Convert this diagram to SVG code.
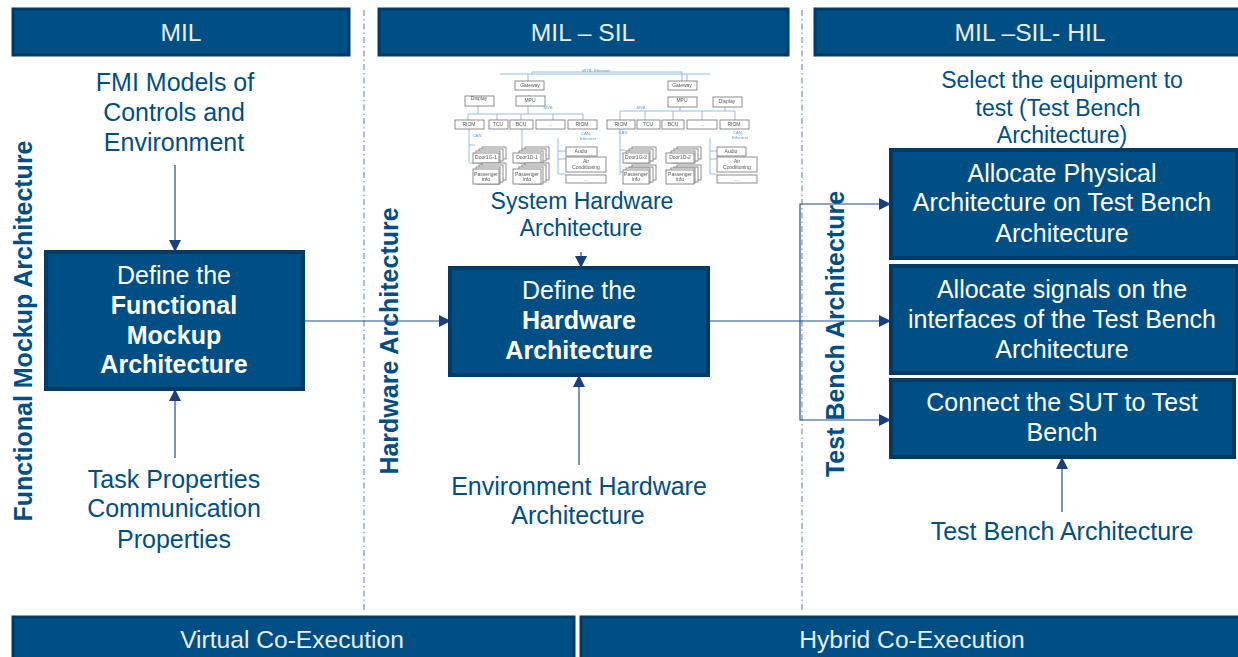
<svg xmlns="http://www.w3.org/2000/svg" width="1238" height="657" viewBox="0 0 1238 657">
<defs>
<style>
text{font-family:"Liberation Sans",Arial,sans-serif}
.bar{fill:#004f84;stroke:#003a66;stroke-width:3}
.box{fill:#004f84;stroke:#003a66;stroke-width:4}
.h{font-size:24.6px;fill:#e8eef4;text-anchor:middle}
.w{font-size:25px;fill:#fff;text-anchor:middle}
.b{font-weight:bold}
.t{font-size:25px;fill:#004f84;text-anchor:middle}
.t2{font-size:23px;fill:#004f84;text-anchor:middle}
.v{font-size:25px;font-weight:bold;fill:#004f84;text-anchor:middle}
.c{fill:none;stroke:#1f4f86;stroke-width:1.2}
.d{fill:none;stroke:#5f7f9f;stroke-width:1;stroke-dasharray:6 3 1.5 3}
.m{fill:#fff;stroke:#808080;stroke-width:.9}
.l{fill:none;stroke:#8fb4dc;stroke-width:.9}
.s{font-size:5px;fill:#555;text-anchor:middle}
.n{font-size:4.2px;fill:#5b9bd5;text-anchor:middle}
</style>
<filter id="soft" x="-5%" y="-5%" width="110%" height="110%"><feGaussianBlur stdDeviation="0.4"/></filter>
<marker id="a" markerWidth="12" markerHeight="12" refX="11" refY="6" orient="auto" markerUnits="userSpaceOnUse"><path d="M0 0L12 6L0 12Z" fill="#1a3f7f"/></marker>
</defs>

<g id="dividers">
<path class="d" d="M364 10V612"/>
<path class="d" d="M802 10V612"/>
</g>

<g id="connectors">
<path class="c" d="M175 165V251" marker-end="url(#a)"/>
<path class="c" d="M175 458V390" marker-end="url(#a)"/>
<path class="c" d="M304 321H450" marker-end="url(#a)"/>
<path class="c" d="M581 252V267" marker-end="url(#a)"/>
<path class="c" d="M579 465V376" marker-end="url(#a)"/>
<path class="c" d="M710 321H890" marker-end="url(#a)"/>
<path class="c" d="M800 321V204H890" marker-end="url(#a)"/>
<path class="c" d="M800 321V420H890" marker-end="url(#a)"/>
<path class="c" d="M1062 512V458" marker-end="url(#a)"/>
<path d="M1055 161L1061 154L1067 161Z" fill="#1a3f7f"/>
</g>

<g id="header-mil"><rect class="bar" x="13" y="9" width="336" height="46"/><text class="h" x="181" y="41">MIL</text></g>
<g id="header-mil-sil"><rect class="bar" x="379" y="9" width="409" height="46"/><text class="h" x="583" y="41">MIL – SIL</text></g>
<g id="header-mil-sil-hil"><rect class="bar" x="815" y="9" width="425" height="46"/><text class="h" x="1030" y="41">MIL –SIL- HIL</text></g>

<g id="label-fmi"><text class="t" x="175" y="91">FMI Models of</text><text class="t" x="174" y="121">Controls and</text><text class="t" x="174" y="151">Environment</text></g>
<g id="label-task"><text class="t" x="174" y="488">Task Properties</text><text class="t" x="174" y="517">Communication</text><text class="t" x="174" y="548">Properties</text></g>

<g id="node-functional"><rect class="box" x="46" y="252" width="257" height="137"/>
<text class="w" x="174" y="284">Define the</text><text class="w b" x="174" y="314">Functional</text><text class="w b" x="174" y="344">Mockup</text><text class="w b" x="174" y="373">Architecture</text></g>

<g id="label-vfm"><text class="v" transform="translate(32 331) rotate(-90)">Functional Mockup Architecture</text></g>
<g id="label-vhw"><text class="v" transform="translate(398 341) rotate(-90)">Hardware Architecture</text></g>
<g id="label-vtb"><text class="v" transform="translate(844 334) rotate(-90)">Test Bench Architecture</text></g>

<g id="system-hardware-sketch" filter="url(#soft)">
<path class="l" d="M500 74H710M528 74V84M532 74V72H682V84M687 74V84M529 96V95M528 106V114M468 114H583M468 114V120M478 106V114M497 114V120M521 114V120M553 114V120M583 114V120M469 128V162M469 145H475M469 163H475M522 128V160M558 138V174M558 151H566M558 159H566M558 174H566M680 106V111M620 111H735M620 111V120M645 111V120M673 111V120M702 111V120M735 111V120M725 106V111M620 128V175M620 150H625M620 172H625M670 155H666M710 138V174M710 151H717M710 159H717M710 174H717"/>
<g class="m">
<rect x="515" y="81" width="29" height="9"/><rect x="516" y="96" width="29" height="10"/><rect x="465" y="96" width="29" height="10"/>
<rect x="455" y="120" width="29" height="9"/><rect x="489" y="120" width="19" height="9"/><rect x="510" y="120" width="23" height="9"/><rect x="536" y="120" width="29" height="9"/><rect x="568" y="120" width="29" height="9"/>
<rect x="668" y="81" width="29" height="9"/><rect x="668" y="97" width="29" height="10"/><rect x="713" y="97" width="29" height="10"/>
<rect x="607" y="120" width="28" height="9"/><rect x="637" y="120" width="23" height="9"/><rect x="662" y="120" width="22" height="9"/><rect x="687" y="120" width="30" height="9"/><rect x="720" y="120" width="29" height="9"/>
<rect x="482" y="147" width="24" height="12"/><rect x="479" y="149" width="24" height="12"/><rect x="476" y="151" width="24" height="12"/><rect x="473" y="153" width="26" height="10"/>
<rect x="525" y="147" width="24" height="12"/><rect x="522" y="149" width="24" height="12"/><rect x="519" y="151" width="24" height="12"/><rect x="513" y="153" width="28" height="10"/>
<rect x="482" y="163" width="24" height="17"/><rect x="479" y="165" width="24" height="17"/><rect x="476" y="167" width="24" height="17"/><rect x="473" y="169" width="26" height="15"/>
<rect x="525" y="163" width="24" height="17"/><rect x="522" y="165" width="24" height="17"/><rect x="519" y="167" width="24" height="17"/><rect x="513" y="169" width="28" height="15"/>
<rect x="566" y="147" width="31" height="9"/><rect x="566" y="157" width="40" height="15"/><rect x="566" y="175" width="40" height="8"/>
<rect x="632" y="147" width="24" height="12"/><rect x="629" y="149" width="24" height="12"/><rect x="626" y="151" width="24" height="12"/><rect x="623" y="153" width="26" height="10"/>
<rect x="677" y="147" width="24" height="12"/><rect x="674" y="149" width="24" height="12"/><rect x="671" y="151" width="24" height="12"/><rect x="666" y="153" width="28" height="10"/>
<rect x="632" y="165" width="24" height="15"/><rect x="629" y="167" width="24" height="15"/><rect x="626" y="168" width="24" height="15"/><rect x="623" y="170" width="26" height="14"/>
<rect x="677" y="165" width="24" height="15"/><rect x="674" y="167" width="24" height="15"/><rect x="671" y="168" width="24" height="15"/><rect x="666" y="170" width="28" height="14"/>
<rect x="717" y="147" width="29" height="9"/><rect x="717" y="157" width="40" height="15"/><rect x="717" y="175" width="40" height="8"/>
</g>
<text class="n" x="596" y="72">WTB, Ethernet</text><text class="n" x="548" y="109">MVB</text><text class="n" x="641" y="109">MVB</text><text class="n" x="477" y="137">CAN</text><text class="n" x="623" y="134">CAN</text><text class="n" x="586" y="135">CAN,</text><text class="n" x="588" y="140">Ethernet</text><text class="n" x="738" y="134">CAN,</text><text class="n" x="740" y="139">Ethernet</text>
<text class="s" x="530" y="87">Gateway</text><text class="s" x="530" y="102">MPU</text><text class="s" x="479" y="100">Display</text>
<text class="s" x="469" y="126">RIOM</text><text class="s" x="498" y="126">TCU</text><text class="s" x="521" y="126">BCU</text><text class="s" x="550" y="126">…</text><text class="s" x="582" y="126">RIOM</text>
<text class="s" x="682" y="87">Gateway</text><text class="s" x="682" y="102">MPU</text><text class="s" x="727" y="103">Display</text>
<text class="s" x="621" y="126">RIOM</text><text class="s" x="648" y="126">TCU</text><text class="s" x="673" y="126">BCU</text><text class="s" x="702" y="126">…</text><text class="s" x="734" y="126">RIOM</text>
<text class="s" x="486" y="159">Door1G-1</text><text class="s" x="527" y="159">Door1D-1</text><text class="s" x="486" y="176">Passenger</text><text class="s" x="486" y="181">info</text><text class="s" x="527" y="176">Passenger</text><text class="s" x="527" y="181">info</text>
<text class="s" x="581" y="153">Audio</text><text class="s" x="586" y="163">Air</text><text class="s" x="586" y="169">Conditioning</text><text class="s" x="586" y="181">…</text>
<text class="s" x="636" y="159">Door1G-2</text><text class="s" x="680" y="159">Door1D-2</text><text class="s" x="636" y="176">Passenger</text><text class="s" x="636" y="181">info</text><text class="s" x="680" y="176">Passenger</text><text class="s" x="680" y="181">info</text>
<text class="s" x="731" y="153">Audio</text><text class="s" x="737" y="163">Air</text><text class="s" x="737" y="169">Conditioning</text><text class="s" x="737" y="181">…</text>
</g>

<g id="label-sys"><text class="t2" x="582" y="209">System Hardware</text><text class="t2" x="581" y="236">Architecture</text></g>
<g id="node-hardware"><rect class="box" x="450" y="268" width="258" height="107"/>
<text class="w" x="579" y="299">Define the</text><text class="w b" x="579" y="329">Hardware</text><text class="w b" x="579" y="359">Architecture</text></g>
<g id="label-env"><text class="t" x="579" y="495">Environment Hardware</text><text class="t" x="578" y="524">Architecture</text></g>

<g id="label-select"><text class="t2" x="1062" y="88">Select the equipment to</text><text class="t2" x="1058" y="116">test (Test Bench</text><text class="t2" x="1062" y="143">Architecture)</text></g>
<g id="node-allocate-physical"><rect class="box" x="891" y="150" width="346" height="108"/>
<text class="w" x="1062" y="182">Allocate Physical</text><text class="w" x="1062" y="211">Architecture on Test Bench</text><text class="w" x="1062" y="242">Architecture</text></g>
<g id="node-allocate-signals"><rect class="box" x="891" y="266" width="346" height="107"/>
<text class="w" x="1062" y="298">Allocate signals on the</text><text class="w" x="1062" y="328">interfaces of the Test Bench</text><text class="w" x="1062" y="358">Architecture</text></g>
<g id="node-connect"><rect class="box" x="891" y="380" width="343" height="77"/>
<text class="w" x="1062" y="411">Connect the SUT to Test</text><text class="w" x="1062" y="441">Bench</text></g>
<g id="label-tb"><text class="t" x="1062" y="540">Test Bench Architecture</text></g>

<g id="footer-virtual"><rect class="bar" x="13" y="617" width="561" height="46"/><text class="h" x="292" y="648">Virtual Co-Execution</text></g>
<g id="footer-hybrid"><rect class="bar" x="581" y="617" width="659" height="46"/><text class="h" x="912" y="648">Hybrid Co-Execution</text></g>
</svg>
